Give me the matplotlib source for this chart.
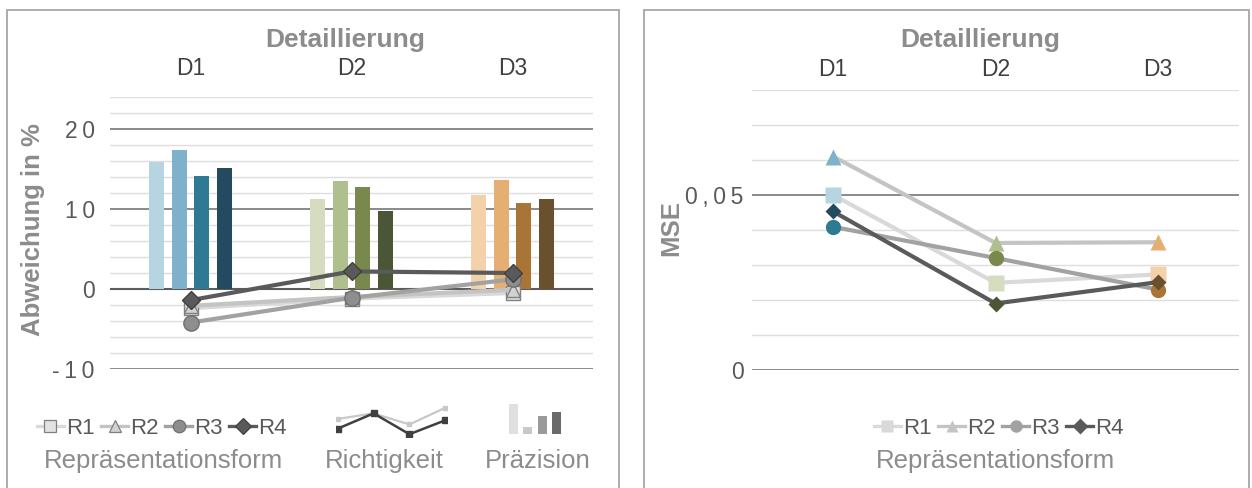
import matplotlib
matplotlib.use("Agg")
import matplotlib.pyplot as plt
from matplotlib.lines import Line2D
from matplotlib.patches import Rectangle
from matplotlib.ticker import FuncFormatter

plt.rcParams['font.family'] = ['Liberation Sans', 'DejaVu Sans']

# ---------------- data ----------------
detail_levels = ["D1", "D2", "D3"]
forms = ["R1", "R2", "R3", "R4"]

# Präzision (bars), Abweichung in %
precision_r1 = [15.9, 11.2, 11.8]
precision_r2 = [17.4, 13.5, 13.6]
precision_r3 = [14.1, 12.7, 10.8]
precision_r4 = [15.1, 9.7, 11.2]

# Richtigkeit (lines), Abweichung in %
accuracy_r1 = [-2.4, -1.2, -0.5]
accuracy_r2 = [-2.1, -1.0, -0.1]
accuracy_r3 = [-4.2, -1.1, 1.2]
accuracy_r4 = [-1.4, 2.2, 2.0]

# MSE
mse_r1 = [0.050, 0.0249, 0.0273]
mse_r2 = [0.061, 0.0363, 0.0365]
mse_r3 = [0.0409, 0.0320, 0.0230]
mse_r4 = [0.0453, 0.0190, 0.0251]

left_yticks = [-10, 0, 10, 20]
right_yticks = [0, 0.05]

# legend icon shapes
icon_line_light = [0.55, 0.75, 0.35, 0.95]
icon_line_dark = [0.2, 0.75, 0.0, 0.5]
icon_bars = [1.0, 0.25, 0.6, 0.75]
icon_bar_colors = ["#e0e0e0", "#c8c8c8", "#9a9a9a", "#6a6a6a"]

# ---------------- styles ----------------
precision = [precision_r1, precision_r2, precision_r3, precision_r4]
accuracy = [accuracy_r1, accuracy_r2, accuracy_r3, accuracy_r4]
mse = [mse_r1, mse_r2, mse_r3, mse_r4]

level_colors = [
    ["#b7d4e2", "#7fb2ca", "#2e7a92", "#234a5f"],   # D1 blues
    ["#d5dcc0", "#afc08e", "#79894d", "#4b5636"],   # D2 greens
    ["#f3d1aa", "#e5af73", "#a97536", "#6a502d"],   # D3 browns
]
markers = ["s", "^", "o", "D"]
line_colors = ["#d9d9d9", "#c4c4c4", "#a2a2a2", "#5a5a5a"]
acc_face = ["#e2e2e2", "#d2d2d2", "#8e8e8e", "#5a5a5a"]
acc_edge = ["#808080", "#808080", "#707070", "#404040"]
acc_ms = [10, 10, 11, 9]
mse_ms = [11, 11, 11, 8]

TXT_DARK = "#404040"
TXT_MID = "#595959"
TXT_LIGHT = "#8c8c8c"
GRID_MAJOR = "#8a8a8a"
GRID_MINOR = "#dedede"

FS_TITLE = 19
FS_CAT = 16.5
FS_TICK = 16.5
FS_YLAB = 18.5
FS_LEG = 16
FS_LEGTITLE = 18.5

W, H = 1252, 488
fig = plt.figure(figsize=(W / 100, H / 100), dpi=100)


def fx(px):
    return px / W


def fy(py):
    return 1 - py / H


# panel frames
for x0, x1 in [(7, 619), (644, 1249)]:
    fig.add_artist(Rectangle((fx(x0), fy(500)), fx(x1 - x0), fy(10) - fy(500),
                             transform=fig.transFigure, fill=False,
                             edgecolor="#a6a6a6", linewidth=1.3))


def spaced(s):
    return "\u2009".join(s)


def style_axes(ax, minor_vals, major_vals, pad):
    for v in minor_vals:
        ax.axhline(v, color=GRID_MINOR, lw=1.0, zorder=0)
    for v in major_vals:
        ax.axhline(v, color=GRID_MAJOR, lw=1.4, zorder=0.5)
    for s in ax.spines.values():
        s.set_visible(False)
    ax.set_xlim(-0.5, 2.5)
    ax.set_xticks(range(len(detail_levels)))
    ax.set_xticklabels(detail_levels)
    ax.tick_params(axis="x", top=True, labeltop=True, bottom=False,
                   labelbottom=False, length=0, pad=pad,
                   labelsize=FS_CAT, labelcolor=TXT_DARK)
    ax.tick_params(axis="y", length=0, labelsize=FS_TICK, labelcolor=TXT_MID)


# ---------------- left: Präzision + Richtigkeit ----------------
axl = fig.add_axes([fx(110), fy(369), fx(483), fy(97) - fy(369)])
axl.set_ylim(-10, 24)
style_axes(axl, [v for v in range(-10, 25, 2) if v % 10], [-10, 10, 20], 12)
axl.axhline(0, color="#5c5c5c", lw=1.5, zorder=0.6)
axl.set_yticks(left_yticks)
axl.yaxis.set_major_formatter(FuncFormatter(lambda v, p: spaced(f"{v:g}")))
axl.tick_params(axis="y", pad=11)

bar_w, bar_step = 0.095, 0.14
for j, lvl in enumerate(detail_levels):
    for i in range(len(forms)):
        axl.bar(j + (i - 1.5) * bar_step, precision[i][j], width=bar_w,
                color=level_colors[j][i], zorder=2)

xs = range(len(detail_levels))
for i in range(len(forms)):
    axl.plot(xs, accuracy[i], color=line_colors[i], lw=3, marker=markers[i],
             ms=acc_ms[i], mfc=acc_face[i], mec=acc_edge[i], mew=1.0, zorder=3 + i)

fig.text(fx(345), fy(40), "Detaillierung", ha="center", va="center",
         fontsize=FS_TITLE, fontweight="bold", color=TXT_LIGHT)
fig.text(fx(33), fy(230), "Abweichung in %", ha="center", va="center",
         rotation=90, fontsize=FS_YLAB, fontweight="bold", color=TXT_LIGHT)

# legend row (Repräsentationsform)
handles_l = [Line2D([], [], color=line_colors[i], lw=2.4, marker=markers[i],
                    ms=9 if i < 3 else 8, mfc=acc_face[i], mec=acc_edge[i], mew=0.9)
             for i in range(len(forms))]
fig.legend(handles_l, forms, loc="center", bbox_to_anchor=(fx(162), fy(428)),
           ncol=4, frameon=False, fontsize=FS_LEG, handlelength=1.2,
           handletextpad=0.1, columnspacing=0.3, labelcolor=TXT_MID,
           borderpad=0, borderaxespad=0)
fig.text(fx(163), fy(461), "Repräsentationsform", ha="center", va="center",
         fontsize=FS_LEGTITLE, color=TXT_LIGHT)

# legend icon: Richtigkeit
ax_r = fig.add_axes([fx(336), fy(437), fx(111), fy(405) - fy(437)])
ax_r.plot(range(4), icon_line_light, color="#c8c8c8", lw=1.6, marker="s", ms=3.5)
ax_r.plot(range(4), icon_line_dark, color="#404040", lw=1.8, marker="s", ms=4.5)
ax_r.set_xlim(-0.05, 3.05)
ax_r.set_ylim(-0.1, 1.05)
ax_r.axis("off")
fig.text(fx(384), fy(461), "Richtigkeit", ha="center", va="center",
         fontsize=FS_LEGTITLE, color=TXT_LIGHT)

# legend icon: Präzision
ax_p = fig.add_axes([fx(507), fy(434), fx(56), fy(404) - fy(434)])
ax_p.bar(range(4), icon_bars, width=0.62, color=icon_bar_colors)
ax_p.set_xlim(-0.45, 3.45)
ax_p.set_ylim(0, 1.0)
ax_p.axis("off")
fig.text(fx(538), fy(461), "Präzision", ha="center", va="center",
         fontsize=FS_LEGTITLE, color=TXT_LIGHT)

# ---------------- right: MSE ----------------
axr = fig.add_axes([fx(752), fy(370), fx(487), fy(90) - fy(370)])
axr.set_ylim(0, 0.08)
style_axes(axr, [0.01, 0.02, 0.03, 0.04, 0.06, 0.07, 0.08], [0.0, 0.05], 6.5)
axr.set_yticks(right_yticks)
axr.yaxis.set_major_formatter(
    FuncFormatter(lambda v, p: "0" if v == 0 else spaced(f"{v:.2f}".replace(".", ","))))
axr.tick_params(axis="y", pad=6)

for i in range(len(forms)):
    axr.plot(xs, mse[i], color=line_colors[i], lw=3, zorder=2 + i)
    for j in xs:
        axr.plot(j, mse[i][j], marker=markers[i], ms=mse_ms[i],
                 color=level_colors[j][i], mec="none", zorder=2 + i)

fig.text(fx(980), fy(40), "Detaillierung", ha="center", va="center",
         fontsize=FS_TITLE, fontweight="bold", color=TXT_LIGHT)
fig.text(fx(671), fy(228), "MSE", ha="center", va="center",
         rotation=90, fontsize=FS_YLAB, fontweight="bold", color=TXT_LIGHT)

handles_r = [Line2D([], [], color=line_colors[i], lw=2.4, marker=markers[i],
                    ms=9 if i < 3 else 8, mfc=line_colors[i], mec="none")
             for i in range(len(forms))]
fig.legend(handles_r, forms, loc="center", bbox_to_anchor=(fx(999), fy(428)),
           ncol=4, frameon=False, fontsize=FS_LEG, handlelength=1.2,
           handletextpad=0.1, columnspacing=0.3, labelcolor=TXT_MID,
           borderpad=0, borderaxespad=0)
fig.text(fx(996), fy(461), "Repräsentationsform", ha="center", va="center",
         fontsize=FS_LEGTITLE, color=TXT_LIGHT)

fig.savefig("out.png", dpi=100, facecolor="white")
